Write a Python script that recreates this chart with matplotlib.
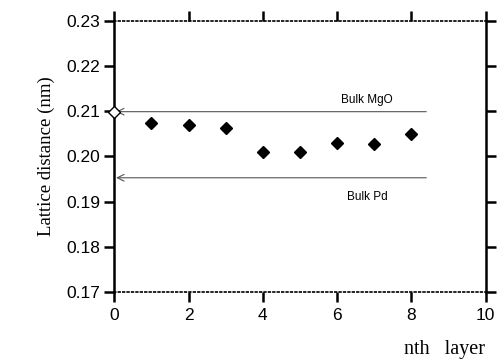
import numpy as np
import matplotlib.pyplot as plt

# data
layers = [1, 2, 3, 4, 5, 6, 7, 8]
distance = [0.2074, 0.2070, 0.2063, 0.2009, 0.2009, 0.2030, 0.2028, 0.2049]
interface_x = [0]
interface_y = [0.2098]
bulk_mgo = 0.2099
bulk_pd = 0.1953
line_end = 8.4

fig = plt.figure(figsize=(4.98, 3.63), dpi=100)
ax = fig.add_axes([0.2295, 0.1948, 0.7458, 0.7482])

ax.plot(layers, distance, linestyle='none', marker='D', markersize=6.5,
        color='black', clip_on=False)
ax.plot(interface_x, interface_y, linestyle='none', marker='D', markersize=6,
        markerfacecolor='white', markeredgecolor='black', markeredgewidth=1,
        clip_on=False, zorder=5)

# bulk reference lines with arrows pointing to the axis
for yv in (bulk_mgo, bulk_pd):
    ax.annotate('', xy=(0.05, yv), xytext=(line_end, yv),
                arrowprops=dict(arrowstyle='->', color='#555555', lw=0.8,
                                mutation_scale=12, shrinkA=0, shrinkB=0))

ax.text(6.8, 0.2125, 'Bulk MgO', fontsize=8.5, family='Liberation Sans',
        ha='center', va='center')
ax.text(6.8, 0.1911, 'Bulk Pd', fontsize=8.5, family='Liberation Sans',
        ha='center', va='center')

ax.set_xlim(0, 10)
ax.set_ylim(0.17, 0.23)
ax.set_xticks(np.arange(0, 11, 2))
ax.set_yticks(np.arange(0.17, 0.2301, 0.01))
ax.set_yticklabels(['0.17', '0.18', '0.19', '0.20', '0.21', '0.22', '0.23'])

for side in ('left', 'right'):
    ax.spines[side].set_linewidth(1.8)
for side in ('top', 'bottom'):
    ax.spines[side].set_linewidth(1.2)
    ax.spines[side].set_linestyle(':')

ax.tick_params(direction='out', length=7, width=1.8, top=True, right=True,
               labelsize=12.5)
ax.tick_params(axis='y', labelright=False, pad=3)
ax.tick_params(axis='x', labeltop=False, pad=4)
for lab in ax.get_xticklabels() + ax.get_yticklabels():
    lab.set_family('Liberation Sans')

ax.set_ylabel('Lattice distance (nm)', family='Liberation Serif', fontsize=13.5,
              labelpad=8)
fig.text(0.893, 0.012, 'nth   layer', family='Liberation Serif', fontsize=14.5,
         ha='center', va='bottom')

fig.savefig('out.png', dpi=100)
